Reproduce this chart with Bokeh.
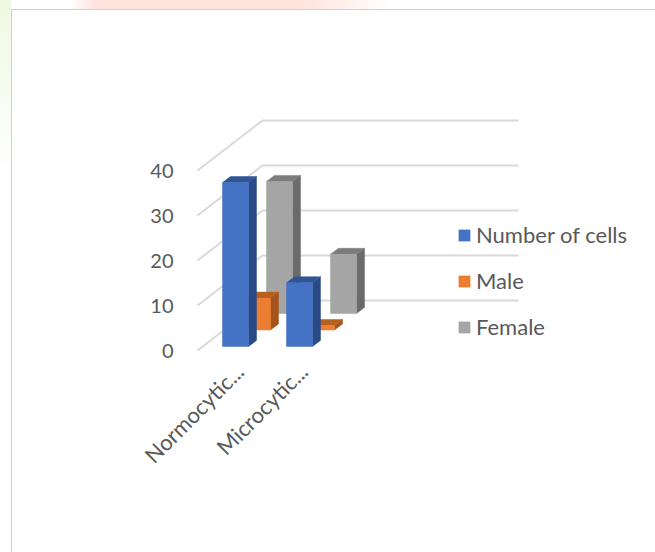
from bokeh.plotting import figure
from bokeh.models import Range1d, FixedTicker, Legend, LegendItem
from bokeh.embed import file_html
from bokeh.resources import INLINE

# ---- data ----
categories = ["Normocytic...", "Microcytic..."]
series_names = ["Number of cells", "Male", "Female"]
number_of_cells = [36, 14]
male = [7, 1]
female = [29, 13]
y_ticks = [0, 10, 20, 30, 40]

# ---- styling / geometry ----
FONT = "Lato"
TXT = "#595959"
PX_CAT, PX_UNIT = 64.0, 4.5        # screen px per category / per value unit
W, H = 655, 552
L, B = 195, 200                    # frame insets
ORIGIN = 239                       # canvas x of first category
X0 = (L - ORIGIN) / PX_CAT
Y0 = -2 / PX_UNIT
X1 = X0 + (W - L) / PX_CAT
Y1 = Y0 + (H - B) / PX_UNIT

colors = {  # front, side, top
    "Number of cells": ("#4472C4", "#2A4A85", "#2F5597"),
    "Male": ("#ED7D31", "#A5531C", "#B8601F"),
    "Female": ("#A5A5A5", "#6B6B6B", "#7C7C7C"),
}


def band(c1, c2, direction, x, y, w, h):
    return f"linear-gradient({direction},{c1},{c2}) {x}px {y}px/{w}px {h}px no-repeat"


page_css = ", ".join([
    band("#D0D0D0", "#D0D0D0", "to bottom", 11, 9, 1, H - 9),   # chart-area border, left
    band("#D0D0D0", "#D0D0D0", "to right", 11, 9, W - 11, 1),   # chart-area border, top
    band("#FFE3DD", "#FFFFFF", "to right", 300, 0, 90, 9),      # page behind the chart area
    band("#FFFFFF", "#FFE3DD", "to right", 70, 0, 25, 9),
    band("#FFE3DD", "#FFE3DD", "to right", 95, 0, 205, 9),
    band("#EEF9E2", "#FFFFFF", "to bottom", 0, 0, 11, 175),
    "white",
])

p = figure(width=W, height=H, output_backend="svg", toolbar_location=None,
           x_range=Range1d(X0, X1), y_range=Range1d(Y0, Y1),
           min_border_left=L, min_border_bottom=B, min_border_top=0, min_border_right=0,
           border_fill_color=None, background_fill_color=None,
           styles={"background": page_css})
p.outline_line_color = None
p.grid.visible = False

p.yaxis.ticker = FixedTicker(ticks=y_ticks)
p.yaxis.axis_line_color = None
p.yaxis.major_tick_line_color = None
p.yaxis.minor_tick_line_color = None
p.yaxis.major_label_standoff = 16
p.yaxis.major_label_text_font = FONT
p.yaxis.major_label_text_font_size = "20px"
p.yaxis.major_label_text_color = TXT

p.xaxis.ticker = FixedTicker(ticks=list(range(len(categories))))
p.xaxis.major_label_overrides = {i: c for i, c in enumerate(categories)}
p.xaxis.major_label_orientation = 0.785
p.xaxis.axis_line_color = None
p.xaxis.major_tick_line_color = None
p.xaxis.minor_tick_line_color = None
p.xaxis.major_label_standoff = 9
p.xaxis.major_label_text_font = FONT
p.xaxis.major_label_text_font_size = "22px"
p.xaxis.major_label_text_color = TXT

# wall depth of the 3-D box, in data units
WALL_DX, WALL_DY = 65 / PX_CAT, 50 / PX_UNIT
WALL_X0 = (197 - ORIGIN) / PX_CAT
WALL_X1 = (518 - ORIGIN) / PX_CAT
for t in y_ticks:
    p.line([WALL_X0, WALL_X0 + WALL_DX, WALL_X1], [t, t + WALL_DY, t + WALL_DY],
           line_color="#D9D9D9", line_width=2)

# bars
BAR_W = 26 / PX_CAT
BAR_DX, BAR_DY = 8 / PX_CAT, 6 / PX_UNIT
ROW_DX, ROW_DY = 22 / PX_CAT, 16.5 / PX_UNIT
START_X, START_Y = (222 - ORIGIN) / PX_CAT, 4 / PX_UNIT
SCALE = 1.012

legend_items = {}
rows = [("Female", female, 2), ("Male", male, 1), ("Number of cells", number_of_cells, 0)]
for name, vals, row in rows:
    front, side, top = colors[name]
    lefts = [i + START_X + row * ROW_DX for i in range(len(vals))]
    rights = [x + BAR_W for x in lefts]
    y0 = START_Y + row * ROW_DY
    bots = [y0] * len(vals)
    tops = [y0 + v * SCALE for v in vals]
    p.patches([[r, r + BAR_DX, r + BAR_DX, r] for r in rights],
              [[b, b + BAR_DY, t + BAR_DY, t] for b, t in zip(bots, tops)],
              fill_color=side, line_color=side, line_width=0.5)
    p.patches([[l, r, r + BAR_DX, l + BAR_DX] for l, r in zip(lefts, rights)],
              [[t, t, t + BAR_DY, t + BAR_DY] for t in tops],
              fill_color=top, line_color=top, line_width=0.5)
    legend_items[name] = p.quad(left=lefts, right=rights, bottom=bots, top=tops,
                                fill_color=front, line_color=front, line_width=0.5)

legend = Legend(items=[LegendItem(label=n, renderers=[legend_items[n]]) for n in series_names],
                location=(457 - L, 12),
                orientation="vertical", background_fill_alpha=0, border_line_color=None,
                glyph_width=14, glyph_height=14, label_standoff=5, padding=0, margin=0,
                spacing=19, label_height=22,
                label_text_font=FONT, label_text_font_size="22px", label_text_color=TXT)
p.add_layout(legend)

open("out.html", "w").write(file_html(p, INLINE))
